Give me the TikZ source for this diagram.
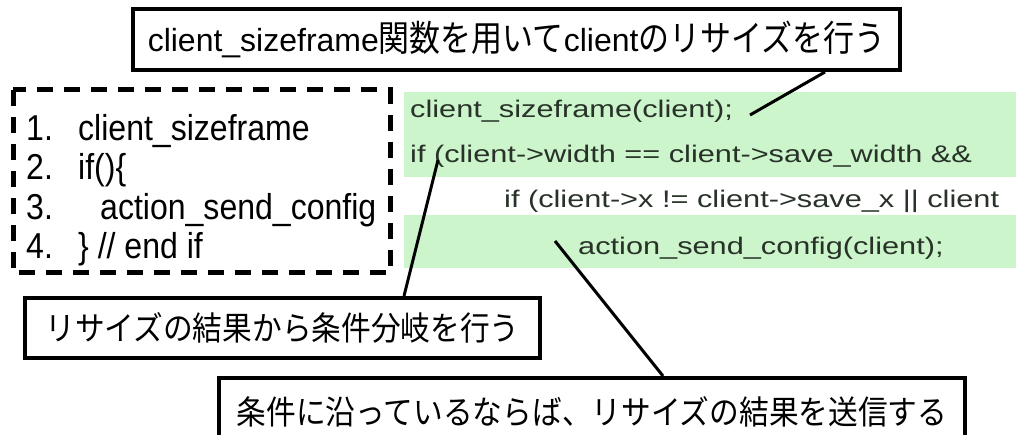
\documentclass[tikz,border=0pt]{standalone}
\usepackage{fontspec}
\setmainfont{Liberation Sans}
\newfontfamily\jp{Noto Sans CJK JP}
\newfontfamily\jpnarrow[FakeStretch=0.9]{Noto Sans CJK JP}
\newfontfamily\jptall[FakeStretch=0.86]{Noto Sans CJK JP}
\newfontfamily\listfont[FakeStretch=0.89]{Liberation Sans}
\newfontfamily\codefont[FakeStretch=1.28]{Liberation Sans}
\definecolor{codebg}{RGB}{204,245,204}
\definecolor{codefg}{RGB}{40,50,40}
\newcommand{\jtop}[1]{{\jptall\fontsize{36}{36}\selectfont #1}}
\begin{document}
\begin{tikzpicture}[x=1pt,y=-1pt,
  label box/.style={draw=black,line width=4pt,fill=white,inner sep=0pt,
    font=\jpnarrow\fontsize{33}{33}\selectfont},
  conn/.style={draw=black,line width=3pt},
  listline/.style={anchor=base west,inner sep=0pt,
    font=\listfont\fontsize{36}{36}\selectfont},
  codeline/.style={anchor=base west,inner sep=0pt,text=codefg,
    font=\codefont\fontsize{24}{24}\selectfont}]
\clip (0,0) rectangle (1016,435);
\fill[white] (0,0) rectangle (1016,435);

% highlighted source lines
\fill[codebg] (404,92) rectangle (1016,177);
\fill[codebg] (404,215) rectangle (1016,268);
\node[codeline] (code1) at (410,118) {client\_sizeframe(client);};
\node[codeline] (code2) at (410,163) {if (client->width == client->save\_width \&\&};
\node[codeline] (code3) at (504,208) {if (client->x != client->save\_x || client};
\node[codeline] (code4) at (578,255) {action\_send\_config(client);};

% outline of the processing steps
\draw[line width=5pt,dash pattern=on 16pt off 11pt] (13,90) rectangle (390,273);
\node[listline] (n1) at (26,141) {1.};
\node[listline] (n2) at (26,180) {2.};
\node[listline] (n3) at (26,220) {3.};
\node[listline] (n4) at (26,259) {4.};
\node[listline] (s1) at (78,141) {client\_sizeframe};
\node[listline] (s2) at (78,180) {if()\{};
\node[listline] (s3) at (100,220) {action\_send\_config};
\node[listline] (s4) at (78,259) {\} // end if};

% explanation boxes
\node[label box,minimum width=767pt,minimum height=61pt,
      font=\fontsize{32}{32}\selectfont] (top) at (516.5,39.5)
  {client\_sizeframe\jtop{関数を用いて}client\jtop{のリサイズを行う}};
\node[label box,minimum width=515pt,minimum height=60pt] (branch) at (282.5,328)
  {リサイズの結果から条件分岐を行う};
\node[label box,minimum width=746pt,minimum height=68pt] (send) at (592,412)
  {条件に沿っているならば、リサイズの結果を送信する};

% pointers into the source
\coordinate (p1) at (750,115);
\coordinate (p2) at (438,160);
\coordinate (p3) at (555,241);
\draw[conn] ([xshift=308.5pt]top.south) -- (p1);
\draw[conn] ([xshift=121.5pt]branch.north) -- (p2);
\draw[conn] ([xshift=71pt]send.north) -- (p3);
\end{tikzpicture}
\end{document}
